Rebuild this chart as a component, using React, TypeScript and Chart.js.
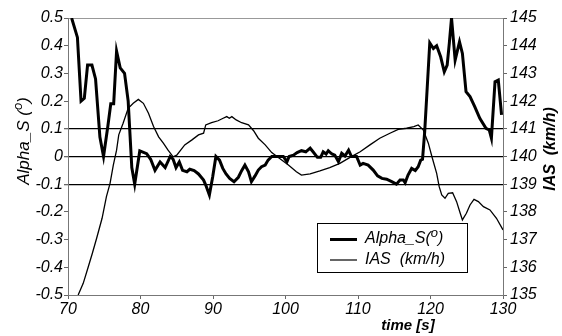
import React, { useEffect, useRef } from "react";
import { Chart, registerables } from "chart.js";

Chart.register(...registerables);

const alphaTime = [70.5, 71.3, 71.8, 72.25, 72.7, 73.3, 73.8, 74.4, 74.9, 75.5, 75.9, 76.3, 76.7, 77.2, 77.8, 78.3, 78.8, 79.2, 79.9, 80.85, 81.4, 82.0, 82.7, 83.4, 84.1, 84.5, 84.9, 85.35, 85.8, 86.4, 86.8, 87.4, 88.0, 88.7, 89.0, 89.5, 89.96, 90.4, 90.9, 91.35, 91.8, 92.3, 92.9, 93.5, 93.95, 94.4, 94.9, 95.3, 95.8, 96.25, 96.7, 97.2, 97.6, 98.1, 99.2, 99.7, 100.2, 100.5, 101.1, 101.6, 102.2, 102.8, 103.4, 103.8, 104.4, 104.85, 105.2, 105.6, 105.9, 106.4, 106.8, 107.3, 107.75, 108.2, 108.7, 109.1, 109.8, 110.3, 110.7, 111.4, 112.1, 112.7, 113.3, 113.95, 114.65, 115.3, 115.8, 116.25, 116.5, 116.9, 117.4, 117.9, 118.3, 118.65, 118.9, 119.2, 119.55, 119.9, 120.4, 120.85, 121.4, 121.9, 122.3, 122.6, 122.9, 123.4, 124.0, 124.4, 124.9, 125.45, 126.1, 126.8, 127.65, 128.1, 128.4, 128.9, 129.35, 129.8];
const alphaValues = [0.5, 0.43, 0.2, 0.21, 0.33, 0.33, 0.28, 0.07, 0.0, 0.11, 0.19, 0.19, 0.38, 0.32, 0.3, 0.2, -0.04, -0.1, 0.02, 0.01, -0.01, -0.05, -0.02, -0.04, 0.0, -0.01, -0.04, -0.02, -0.05, -0.055, -0.046, -0.051, -0.063, -0.085, -0.103, -0.139, -0.073, 0.0, -0.013, -0.043, -0.063, -0.079, -0.091, -0.075, -0.051, -0.031, -0.055, -0.091, -0.07, -0.049, -0.037, -0.031, -0.013, 0.0, 0.0, 0.0, -0.019, 0.0, 0.005, 0.014, 0.021, 0.017, 0.03, 0.017, -0.003, -0.003, 0.017, 0.009, 0.021, 0.009, 0.005, -0.019, 0.012, 0.002, 0.023, 0.0, 0.0, -0.031, -0.025, -0.031, -0.049, -0.07, -0.079, -0.082, -0.091, -0.1, -0.085, -0.085, -0.095, -0.067, -0.043, -0.051, -0.037, -0.013, -0.01, 0.09, 0.25, 0.41, 0.39, 0.4, 0.36, 0.306, 0.33, 0.41, 0.5, 0.348, 0.414, 0.372, 0.234, 0.216, 0.18, 0.138, 0.102, 0.096, 0.066, 0.27, 0.276, 0.15];

const iasTime = [71.4, 72.1, 72.8, 73.35, 73.95, 74.7, 75.3, 75.8, 76.25, 76.7, 77.0, 77.6, 78.3, 79.0, 79.7, 80.4, 81.1, 81.8, 82.5, 83.15, 83.8, 84.5, 85.0, 86.1, 87.1, 88.0, 88.7, 89.0, 89.8, 90.7, 91.4, 91.9, 92.25, 92.6, 93.2, 93.95, 94.9, 95.6, 96.25, 97.2, 98.1, 99.2, 100.4, 101.5, 102.2, 103.4, 104.75, 106.1, 107.5, 108.9, 110.3, 111.65, 113.0, 114.4, 115.55, 116.7, 117.7, 118.3, 119.0, 119.7, 120.2, 120.85, 121.2, 121.55, 122.0, 122.45, 123.05, 123.6, 124.1, 124.4, 124.95, 125.45, 126.0, 126.6, 127.3, 128.2, 129.1, 130.0];
const iasValues = [135.0, 135.42, 136.02, 136.5, 137.05, 137.77, 138.55, 139.03, 139.69, 140.23, 140.78, 141.2, 141.74, 141.92, 142.06, 141.92, 141.56, 141.08, 140.71, 140.48, 140.23, 139.99, 140.05, 140.42, 140.6, 140.78, 140.84, 141.14, 141.22, 141.29, 141.38, 141.44, 141.38, 141.44, 141.32, 141.22, 141.14, 140.93, 140.66, 140.42, 140.14, 139.93, 139.69, 139.45, 139.33, 139.37, 139.48, 139.6, 139.75, 139.97, 140.17, 140.42, 140.66, 140.84, 140.98, 141.02, 141.08, 141.14, 140.96, 140.48, 139.99, 139.39, 138.91, 138.61, 138.49, 138.67, 138.69, 138.37, 137.95, 137.71, 137.95, 138.25, 138.45, 138.37, 138.19, 138.07, 137.77, 137.35];

const mainLines = [-0.1, 0, 0.1];

const FONT = "'Liberation Sans', Arial, sans-serif";

type Part = { text: string; size: number; bold?: boolean; dy?: number };

function drawRich(ctx: CanvasRenderingContext2D, parts: Part[], x: number, y: number, align: "left" | "center") {
  const fontOf = (p: Part) => `italic ${p.bold ? "bold " : ""}${p.size}px ${FONT}`;
  let total = 0;
  const widths = parts.map((p) => {
    ctx.font = fontOf(p);
    const w = ctx.measureText(p.text).width;
    total += w;
    return w;
  });
  let cx = align === "center" ? x - total / 2 : x;
  ctx.textAlign = "left";
  ctx.textBaseline = "middle";
  ctx.fillStyle = "#000";
  parts.forEach((p, i) => {
    ctx.font = fontOf(p);
    ctx.fillText(p.text, cx, y + (p.dy || 0));
    cx += widths[i];
  });
}

const annotations = {
  id: "annotations",
  afterDraw(chart: any) {
    const ctx: CanvasRenderingContext2D = chart.ctx;
    ctx.save();
    // left title
    ctx.save();
    ctx.translate(24, 141);
    ctx.rotate(-Math.PI / 2);
    drawRich(ctx, [
      { text: "Alpha_S (", size: 17 },
      { text: "o", size: 13, dy: -6 },
      { text: ")", size: 17 },
    ], 0, 0, "center");
    ctx.restore();
    // right title
    ctx.save();
    ctx.translate(551, 149);
    ctx.rotate(-Math.PI / 2);
    drawRich(ctx, [{ text: "IAS  (km/h)", size: 16, bold: true }], 0, 0, "center");
    ctx.restore();
    // x title
    drawRich(ctx, [{ text: "time [s]", size: 15, bold: true }], 408, 326, "center");
    // legend
    ctx.fillStyle = "#fff";
    ctx.fillRect(317.5, 223.5, 150, 49);
    ctx.strokeStyle = "#000";
    ctx.lineWidth = 1;
    ctx.strokeRect(317.5, 223.5, 150, 49);
    ctx.beginPath();
    ctx.lineWidth = 3;
    ctx.moveTo(330, 239.5);
    ctx.lineTo(357, 239.5);
    ctx.stroke();
    ctx.beginPath();
    ctx.lineWidth = 1.2;
    ctx.moveTo(330, 260);
    ctx.lineTo(357, 260);
    ctx.stroke();
    drawRich(ctx, [
      { text: "Alpha_S(", size: 16 },
      { text: "o", size: 13, dy: -6 },
      { text: ")", size: 16 },
    ], 365, 239, "left");
    drawRich(ctx, [{ text: "IAS  (km/h)", size: 16 }], 365, 260, "left");
    ctx.restore();
  },
};

export default function App() {
  const ref = useRef<HTMLCanvasElement>(null);
  useEffect(() => {
    if (!ref.current) return;
    const tickFont = { family: FONT, size: 16, style: "italic" as const };
    const chart = new Chart(ref.current, {
      type: "line",
      data: {
        datasets: [
          {
            label: "IAS  (km/h)",
            data: iasTime.map((t, i) => ({ x: t, y: iasValues[i] })),
            yAxisID: "y2",
            borderColor: "#000",
            borderWidth: 1.3,
            pointRadius: 0,
            tension: 0,
            fill: false,
          },
          {
            label: "Alpha_S(o)",
            data: alphaTime.map((t, i) => ({ x: t, y: alphaValues[i] })),
            yAxisID: "y",
            borderColor: "#000",
            borderWidth: 3,
            pointRadius: 0,
            tension: 0,
            fill: false,
          },
        ],
      },
      options: {
        animation: false,
        responsive: false,
        devicePixelRatio: 1,
        layout: { padding: { top: 18, left: 0, right: 0, bottom: 0 } },
        plugins: { legend: { display: false }, tooltip: { enabled: false } },
        scales: {
          x: {
            type: "linear",
            min: 70,
            max: 130,
            ticks: { stepSize: 10, font: tickFont, color: "#000", padding: 1, maxRotation: 0 },
            grid: { drawOnChartArea: false, drawTicks: true, tickLength: 4, color: "#666" },
            border: { display: true, color: "#777", width: 1 },
            afterFit: (s: any) => { s.height = 41; },
          },
          y: {
            type: "linear",
            position: "left",
            min: -0.5,
            max: 0.5,
            ticks: {
              stepSize: 0.1,
              font: tickFont,
              color: "#000",
              padding: 1,
              callback: (v: any) => String(Math.round(Number(v) * 10) / 10),
            },
            grid: {
              drawOnChartArea: true,
              tickLength: 4,
              tickColor: "#666",
              color: (c: any) => {
                const v = Math.round((c.tick?.value ?? 99) * 10) / 10;
                if (mainLines.includes(v)) return "#000";
                if (v === 0.5) return "#999";
                return "rgba(0,0,0,0)";
              },
              lineWidth: (c: any) => {
                const v = Math.round((c.tick?.value ?? 99) * 10) / 10;
                return mainLines.includes(v) ? 1.3 : 1;
              },
            },
            border: { display: true, color: "#777", width: 1 },
            afterFit: (s: any) => { s.width = 68; },
          },
          y2: {
            type: "linear",
            position: "right",
            min: 135,
            max: 145,
            ticks: { stepSize: 1, font: tickFont, color: "#000", padding: 3 },
            grid: { drawOnChartArea: false, tickLength: 4, color: "#666" },
            border: { display: true, color: "#777", width: 1 },
            afterFit: (s: any) => { s.width = 59; },
          },
        },
      },
      plugins: [annotations],
    });
    return () => chart.destroy();
  }, []);
  return (
    <div style={{ position: "absolute", left: 0, top: 0, width: 562, height: 336, background: "#fff" }}>
      <canvas ref={ref} width={562} height={336} />
    </div>
  );
}
